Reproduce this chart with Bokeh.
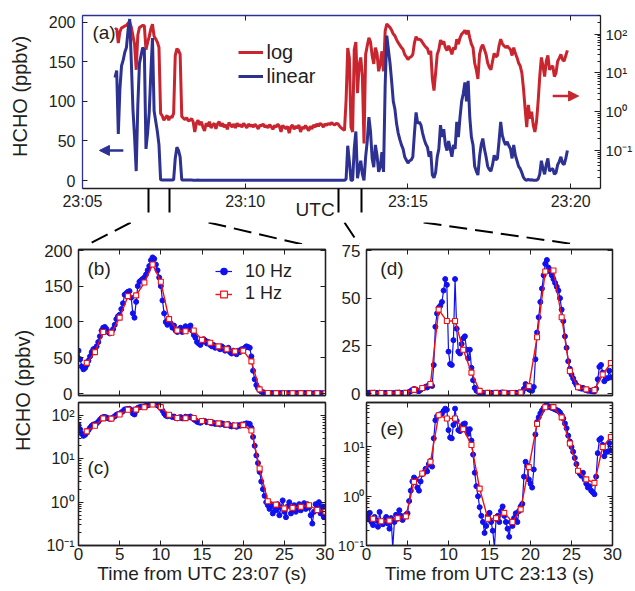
import numpy as np
from bokeh.plotting import figure
from bokeh.layouts import column, row
from bokeh.models import (Range1d, LinearAxis, LogAxis, LogScale, FixedTicker, Label,
                          Arrow, NormalHead, Legend, LegendItem, CustomJSTickFormatter)
from bokeh.embed import file_html
from bokeh.resources import INLINE

# ---------------------------------------------------------------- data
# (a) HCHO (ppbv); time in s after 23:05:00, 3-s steps inside each segment
a_step = 3
a_seg1_t0 = 60
a_seg1 = [130, 139, 59, 116, 145, 152, 162, 168, 190, 204,
          150, 90, 55, 12, 95, 148, 158, 168, 165, 40,
          60, 86, 136, 180, 88, 75, 62, 45, 0.9, 0.78, 0.6]
a_seg2_t0 = 153
a_seg2 = [0.7, 0.8, 0.6, 0.75, 0.7, 0.9, 28, 42, 38, 30,
          0.75, 0.68, 0.62, 0.7, 0.58, 0.6, 0.66, 0.55, 0.3, 0.5,
          0.6, 0.45, 0.55, 0.4, 0.32, 0.5, 0.42, 0.55, 0.38, 0.45,
          0.5, 0.36, 0.48, 0.55, 0.42, 0.5, 0.4, 0.46, 0.35, 0.52,
          0.45, 0.4, 0.48, 0.38, 0.5, 0.42, 0.46, 0.4, 0.5, 0.44,
          0.38, 0.48, 0.42, 0.45, 0.4, 0.47, 0.42, 0.36, 0.45, 0.43,
          0.48, 0.4, 0.44, 0.38, 0.46, 0.41, 0.35, 0.44, 0.4, 0.47,
          0.42, 0.3, 0.44, 0.4, 0.36, 0.42, 0.28, 0.4, 0.45, 0.35,
          0.42, 0.38, 0.45, 0.3, 0.4, 0.36, 0.44, 0.38, 0.32, 0.42,
          0.36, 0.45, 0.4, 0.48, 0.42, 0.5, 0.46, 0.4, 0.48, 0.44,
          0.5, 0.46, 0.52, 0.48, 0.45, 0.5, 0.48, 0.42, 0.38, 0.35]
a_seg3_t0 = 483
a_seg3 = [0.33, 2.0, 44, 24, 0.4, 0.3, 40, 62, 3, 16]
a_seg4_t0 = 513
a_seg4 = [25, 8, 0.15, 30, 50, 80, 62, 28, 17, 45,
          32, 11, 17, 36, 11, 120, 183, 165, 148, 125,
          100, 90, 72, 60, 52, 45, 40, 30, 26, 22,
          25, 26, 30, 60, 86, 72, 74, 70, 60, 52,
          46, 42, 30, 37, 7, 3.5, 10, 30, 40, 70,
          55, 65, 45, 38, 50, 40, 30, 45, 40, 74,
          55, 80, 100, 110, 124, 100, 126, 80, 55, 45,
          18, 12, 7, 30, 45, 53, 40, 30, 18, 14,
          12, 20, 32, 26, 28, 50, 74, 57, 50, 45,
          49, 44, 40, 28, 45, 32, 25, 18, 15, 10,
          4, 1.2, 0.4, 1.5, 0.66, 1.0, 0.45, 0.3, 0.54, 1.8,
          8, 25, 15, 8, 20, 28, 12, 14, 15, 8,
          10, 20, 24, 30, 22, 20, 28, 38]
a_xticks = [0, 300, 600, 900]
a_xtick_labels = ["23:05", "23:10", "23:15", "23:20"]
a_yticks = [0, 50, 100, 150, 200]
a_log_ticks = [0.1, 1, 10, 100]
zoom_marks = [121, 161, 472, 514]   # s after 23:05:00, where the zoom connectors start

# (b)/(c): time from 23:07:00 (s)
t10 = [round(0.2 * k, 1) for k in range(150)]
b_hz10 = [60, 48, 38, 34, 36, 40, 46, 52, 58, 62,
          63, 66, 72, 80, 88, 92, 93, 90, 86, 84,
          86, 90, 96, 104, 108, 110, 118, 126, 138, 140,
          142, 143, 134, 112, 106, 128, 150, 156, 158, 160,
          162, 166, 172, 178, 186, 190, 188, 180, 172, 162,
          150, 130, 112, 100, 96, 102, 98, 92, 95, 88,
          86, 90, 92, 86, 88, 94, 90, 92, 95, 88,
          82, 78, 72, 70, 68, 72, 76, 74, 70, 72,
          68, 66, 68, 64, 66, 64, 62, 66, 64, 60,
          62, 64, 58, 56, 60, 58, 55, 60, 58, 62,
          62, 64, 66, 65, 64, 52, 32, 20, 12, 8,
          5, 3, 2, 1.4, 1.0, 0.85, 0.7, 0.9, 0.55, 0.8,
          0.65, 0.9, 0.5, 0.75, 1.1, 0.6, 0.45, 0.8, 1.0, 0.55,
          0.7, 0.85, 0.6, 0.75, 0.9, 0.65, 0.8, 0.95, 0.7, 0.9,
          0.75, 0.5, 0.32, 0.6, 0.9, 0.7, 1.0, 0.55, 0.8, 0.45]
b_t1 = list(range(1, 31))
b_hz1 = [43, 58, 86, 85, 106, 136, 137, 155, 180, 156,
         104, 88, 87, 88, 75, 71, 66, 62, 59, 60,
         45, 6, 1.05, 0.88, 0.72, 0.74, 0.78, 0.85, 0.66, 0.6]

# (d)/(e): time from 23:13:00 (s)
d_hz10 = [0.42, 0.35, 0.46, 0.3, 0.26, 0.38, 0.32, 0.24, 0.48, 0.3,
          0.27, 0.33, 0.38, 0.28, 0.22, 0.36, 0.09, 0.3, 0.42, 0.35,
          0.52, 0.4, 0.33, 0.38, 0.42, 0.45, 0.8, 1.3, 2.0, 2.4,
          2.2, 1.5, 1.3, 2.0, 2.8, 3.0, 3.6, 3.2, 4.5, 5.2,
          4.0, 15, 35, 42, 45, 46, 48, 54, 60, 57,
          22, 15.5, 15, 28, 60, 34, 22, 21, 26, 29,
          30, 23, 18.5, 23, 13.5, 7, 3, 1.6, 1.0, 0.6,
          0.4, 0.3, 0.18, 0.25, 0.4, 0.46, 0.3, 0.2, 0.09, 0.35,
          0.4, 0.3, 0.5, 0.62, 0.4, 0.3, 0.22, 0.15, 0.3, 0.25,
          0.36, 0.45, 0.3, 0.5, 0.62, 0.7, 2.5, 5.0, 4.2, 2.2,
          1.8, 1.5, 3.5, 18, 32, 40, 48, 55, 62, 68,
          70, 66, 64, 62, 60, 58, 56, 54, 50, 44,
          38, 30, 24, 17, 13, 10, 8, 6, 4.5, 3.2,
          2.9, 2.6, 3.0, 2.2, 1.8, 1.5, 1.6, 1.3, 1.2, 1.1,
          2.5, 7.5, 14, 15, 11, 6.5, 8, 8, 12, 8.5]
d_t1 = [round(0.8 + k, 1) for k in range(30)]
d_hz1 = [0.35, 0.31, 0.32, 0.36, 0.39, 1.96, 2.9, 5.0, 44, 38,
         38, 23, 11, 1.43, 0.35, 0.36, 0.46, 0.30, 0.54, 3.9,
         29.5, 64, 64.5, 40, 11.8, 3.3, 2.2, 1.87, 10, 16]

bottom_xticks = [0, 5, 10, 15, 20, 25, 30]
b_yticks = [0, 50, 100, 150, 200]
c_yticks = [0.1, 1, 10, 100]
d_yticks = [0, 25, 50, 75]
e_yticks = [0.1, 1, 10]

# ---------------------------------------------------------------- style / layout
FONT = "Liberation Sans"
INK = "#231f20"
A_RED = "#c9252f"
A_BLUE = "#2d3192"
C10 = "#1010f0"
C1 = "#f01010"
NBSP = "\u00a0"

W, H = 635, 591
A_H = 222          # top canvas height
BAND_END = 244     # connector band from A_H to BAND_END
STRIP_W = 40
SPLIT = 334
ROW1_BOTTOM = 400
BEND_Y = 213       # where the connectors turn from vertical to diagonal

A_X = (0, 955)
A_Y = (-10, 208.4)
A_YLOG = (0.0104, 302)
FR = {
    "a": dict(f=(82, 602, 15, 189), xr=A_X, yr=A_Y),
    "alog": dict(f=(82, 602, 15, 189), xr=A_X, yr=A_YLOG, log=True),
    "b": dict(f=(78, 325, 249, 395), xr=(0, 30), yr=(-2.5, 201)),
    "c": dict(f=(78, 325, 402, 545), xr=(0, 30), yr=(0.1, 200), log=True),
    "d": dict(f=(363, 612, 249, 395), xr=(0, 30), yr=(-1, 75.5)),
    "e": dict(f=(363, 612, 402, 545), xr=(0, 30), yr=(0.1, 80), log=True),
}
CANVAS = {
    "b": (STRIP_W, SPLIT, BAND_END, ROW1_BOTTOM),
    "c": (STRIP_W, SPLIT, ROW1_BOTTOM, H),
    "d": (SPLIT, W, BAND_END, ROW1_BOTTOM),
    "e": (SPLIT, W, ROW1_BOTTOM, H),
}


def page_to(key, px, py):
    fr = FR[key]
    x0, x1, y0, y1 = fr["f"]
    xr, yr = fr["xr"], fr["yr"]
    x = xr[0] + (px - x0) / (x1 - x0) * (xr[1] - xr[0])
    f = (y1 - py) / (y1 - y0)
    if fr.get("log"):
        l0, l1 = np.log10(yr[0]), np.log10(yr[1])
        y = 10 ** (l0 + f * (l1 - l0))
    else:
        y = yr[0] + f * (yr[1] - yr[0])
    return float(x), float(y)


def empty_fmt():
    return CustomJSTickFormatter(code="return ''")


def pow_fmt():
    return CustomJSTickFormatter(code="""
        const e = Math.round(Math.log10(tick));
        const sup = {"-2": "\\u207b\\u00b2", "-1": "\\u207b\\u00b9", "0": "\\u2070",
                     "1": "\\u00b9", "2": "\\u00b2"};
        return "10" + sup[String(e)];
    """)


def style_axis(ax, size=16, standoff=5, tick_in=5, minor_in=0, color=INK, width=1.3):
    ax.major_tick_in = tick_in
    ax.major_tick_out = 0
    ax.minor_tick_in = minor_in
    ax.minor_tick_out = 0
    ax.major_label_standoff = standoff
    ax.major_label_text_font = FONT
    ax.major_label_text_font_size = f"{size}px"
    ax.major_label_text_color = INK
    ax.axis_line_color = color
    ax.axis_line_width = width
    ax.major_tick_line_color = INK
    ax.minor_tick_line_color = INK if minor_in else None


def hide_labels(ax):
    ax.formatter = empty_fmt()
    ax.major_label_text_font_size = "0px"
    ax.major_label_standoff = 0


def log_minors(e0, e1):
    return [k * 10.0 ** e for e in range(e0, e1 + 1) for k in range(2, 10)]


def text_label(p, key, px, py, text, size, **kw):
    x, y = page_to(key, px, py)
    p.add_layout(Label(x=x, y=y, text=text, text_align="left",
                       text_baseline="middle", text_font=FONT,
                       text_font_size=f"{size}px", text_color=INK, **kw))


def axis_title(ax, text, size, standoff):
    ax.axis_label = text
    ax.axis_label_standoff = standoff
    ax.axis_label_text_font = FONT
    ax.axis_label_text_font_size = f"{size}px"
    ax.axis_label_text_font_style = "normal"
    ax.axis_label_text_color = INK


# ---------------------------------------------------------------- (a)
ta = np.concatenate([a_seg1_t0 + a_step * np.arange(len(a_seg1)),
                     a_seg2_t0 + a_step * np.arange(len(a_seg2)),
                     a_seg3_t0 + a_step * np.arange(len(a_seg3)),
                     a_seg4_t0 + a_step * np.arange(len(a_seg4))])
va = np.array(a_seg1 + a_seg2 + a_seg3 + a_seg4, dtype=float)

fa = FR["a"]["f"]
pa = figure(width=W, height=A_H, x_range=Range1d(*A_X), y_range=Range1d(*A_Y),
            toolbar_location=None, output_backend="svg", title=None,
            min_border_left=fa[0], min_border_right=W - fa[1],
            min_border_top=fa[2], min_border_bottom=A_H - fa[3])
pa.extra_y_ranges = {"log": Range1d(*A_YLOG)}
pa.extra_y_scales = {"log": LogScale()}
pa.grid.visible = False
pa.outline_line_color = None

r_log = pa.line(ta, va, y_range_name="log", line_color=A_RED, line_width=3)
r_lin = pa.line(ta, va, line_color=A_BLUE, line_width=3)

stem = BEND_Y - fa[3]
ax_b = pa.below[0]
# minor ticks at the zoom windows form the vertical stems of the connectors
ax_b.ticker = FixedTicker(ticks=a_xticks, minor_ticks=zoom_marks)
ax_b.major_label_overrides = {int(k): v for k, v in zip(a_xticks, a_xtick_labels)}
style_axis(ax_b, size=16, standoff=4 - stem, tick_in=5)
ax_b.minor_tick_in = 0
ax_b.minor_tick_out = stem
ax_b.minor_tick_line_color = "black"
ax_b.minor_tick_line_width = 2
axis_title(ax_b, "UTC" + NBSP * 10, 19, -14)

ax_l = pa.left[0]
ax_l.ticker = FixedTicker(ticks=a_yticks)
style_axis(ax_l, size=16, standoff=7, tick_in=5, color=A_BLUE)
axis_title(ax_l, NBSP * 2 + "HCHO (ppbv)", 20, 15)

ax_t = LinearAxis(ticker=FixedTicker(ticks=a_xticks))
style_axis(ax_t, tick_in=5, color=A_BLUE)
hide_labels(ax_t)
pa.add_layout(ax_t, "above")

ax_r = LogAxis(y_range_name="log",
               ticker=FixedTicker(ticks=a_log_ticks, minor_ticks=log_minors(-2, 2)),
               formatter=pow_fmt())
style_axis(ax_r, size=15, standoff=5, tick_in=6, minor_in=3)
pa.add_layout(ax_r, "right")

text_label(pa, "a", 92, 32, "(a)", 19)

leg_a = Legend(items=[LegendItem(label="log", renderers=[r_log]),
                      LegendItem(label="linear", renderers=[r_lin])],
               location=(155.5, 100), orientation="vertical", padding=0, margin=0,
               spacing=0, label_height=24, glyph_height=24, glyph_width=25,
               label_standoff=4, label_text_font=FONT, label_text_font_size="20px",
               label_text_color=INK, border_line_color=None, background_fill_alpha=0)
pa.add_layout(leg_a)

x0s, y0s = page_to("a", 123, 150.7)
x1s, _ = page_to("a", 99, 150.7)
pa.add_layout(Arrow(end=NormalHead(size=10, fill_color=A_BLUE, line_color=A_BLUE),
                    x_start=x0s, y_start=y0s, x_end=x1s, y_end=y0s,
                    line_color=A_BLUE, line_width=2.5))
x0s, y0s = page_to("alog", 554, 96)
x1s, _ = page_to("alog", 580, 96)
pa.add_layout(Arrow(end=NormalHead(size=10, fill_color=A_RED, line_color=A_RED),
                    x_start=x0s, y_start=y0s, x_end=x1s, y_end=y0s,
                    y_range_name="log", line_color=A_RED, line_width=2.5))


# ---------------------------------------------------------------- lower panels
def make_panel(key, yticks, ylog, ysize, ystandoff):
    x0, x1, y0, y1 = FR[key]["f"]
    cx0, cx1, cy0, cy1 = CANVAS[key]
    p = figure(width=cx1 - cx0, height=cy1 - cy0,
               x_range=Range1d(*FR[key]["xr"]), y_range=Range1d(*FR[key]["yr"]),
               y_axis_type="log" if ylog else "linear",
               toolbar_location=None, output_backend="svg", title=None,
               min_border_left=x0 - cx0, min_border_right=cx1 - x1,
               min_border_top=y0 - cy0, min_border_bottom=cy1 - y1)
    p.grid.visible = False
    p.outline_line_color = INK
    p.outline_line_width = 1.3
    xtk = FixedTicker(ticks=bottom_xticks)
    if ylog:
        ytk = FixedTicker(ticks=yticks, minor_ticks=log_minors(-1, 2))
    else:
        ytk = FixedTicker(ticks=yticks)
    xb = p.below[0]
    xb.ticker = xtk
    style_axis(xb, size=17, standoff=2)
    yl = p.left[0]
    yl.ticker = ytk
    style_axis(yl, size=ysize, standoff=ystandoff, tick_in=5, minor_in=3 if ylog else 0)
    if ylog:
        yl.formatter = pow_fmt()
    top = LinearAxis(ticker=xtk)
    style_axis(top)
    hide_labels(top)
    p.add_layout(top, "above")
    right = LogAxis(ticker=ytk) if ylog else LinearAxis(ticker=ytk)
    style_axis(right, tick_in=5, minor_in=3 if ylog else 0)
    hide_labels(right)
    p.add_layout(right, "right")
    return p, xb


def draw_series(p, t_fast, v_fast, t_slow, v_slow):
    rl10 = p.line(t_fast, v_fast, line_color=C10, line_width=1.2)
    rs10 = p.scatter(t_fast, v_fast, marker="circle", size=5, fill_color=C10, line_color=C10)
    rl1 = p.line(t_slow, v_slow, line_color=C1, line_width=1.4)
    rs1 = p.scatter(t_slow, v_slow, marker="square", size=5, fill_color="white",
                    line_color=C1, line_width=1.1)
    return (rl10, rs10), (rl1, rs1)


pb, xb_b = make_panel("b", b_yticks, False, 17, 6)
pc, xb_c = make_panel("c", c_yticks, True, 16, 4)
pd, xb_d = make_panel("d", d_yticks, False, 17, 6)
pe, xb_e = make_panel("e", e_yticks, True, 15, 2)

hide_labels(xb_b)
hide_labels(xb_d)

g10, g1 = draw_series(pb, t10, b_hz10, b_t1, b_hz1)
draw_series(pc, t10, b_hz10, b_t1, b_hz1)
draw_series(pd, t10, d_hz10, d_t1, d_hz1)
draw_series(pe, t10, d_hz10, d_t1, d_hz1)

axis_title(xb_c, "Time from UTC 23:07 (s)", 19, 0)
axis_title(xb_e, "Time from UTC 23:13 (s)", 19, 0)

text_label(pb, "b", 87, 268, "(b)", 19)
text_label(pc, "c", 87, 467, "(c)", 19)
text_label(pd, "d", 377, 268, "(d)", 19)
text_label(pe, "e", 377, 428, "(e)", 19)

fb_bottom = FR["b"]["f"][3]
for lab, rends, cy in (("10 Hz", g10, 271), ("1 Hz", g1, 293.5)):
    lg = Legend(items=[LegendItem(label=lab, renderers=list(rends))],
                location=(215 - FR["b"]["f"][0], fb_bottom - (cy + 12)),
                padding=0, margin=0, spacing=0,
                label_height=24, glyph_height=24, glyph_width=17, label_standoff=13,
                label_text_font=FONT, label_text_font_size="18px", label_text_color=INK,
                border_line_color=None, background_fill_alpha=0)
    pb.add_layout(lg)

# ---------------------------------------------------------------- connector band
# the band's frame is aligned with the frame of (a) by the column layout,
# so it shares the time axis of (a)
band = figure(width=W, height=BAND_END - A_H, x_range=pa.x_range,
              y_range=Range1d(BAND_END, A_H), toolbar_location=None,
              output_backend="svg", title=None, min_border=0,
              min_border_left=fa[0], min_border_right=W - fa[1],
              x_axis_location=None, y_axis_location=None, outline_line_color=None)
band.grid.visible = False
corners = [(FR["b"]["f"][0], FR["b"]["f"][2]), (FR["b"]["f"][1], FR["b"]["f"][2]),
           (FR["d"]["f"][0], FR["d"]["f"][2]), (FR["d"]["f"][1], FR["d"]["f"][2])]
sx0, sy0, sx1, sy1 = [], [], [], []
for tm, (cx, cy) in zip(zoom_marks, corners):
    tc, _ = page_to("a", cx, cy)
    f0 = (A_H - BEND_Y) / (cy - BEND_Y)
    f1 = (BAND_END - BEND_Y) / (cy - BEND_Y)
    sx0.append(tm + f0 * (tc - tm))
    sy0.append(A_H)
    sx1.append(tm + f1 * (tc - tm))
    sy1.append(BAND_END)
band.segment(sx0, sy0, sx1, sy1, line_color="black", line_width=2, line_dash="18 8")

# ---------------------------------------------------------------- strip with shared y label
fb = FR["b"]["f"]
fc = FR["c"]["f"]
ps = figure(width=STRIP_W, height=H - BAND_END, x_range=Range1d(0, 1), y_range=Range1d(0, 1),
            toolbar_location=None, output_backend="svg", title=None,
            min_border_left=0, min_border_right=0,
            min_border_top=fb[2] - BAND_END, min_border_bottom=H - fc[3],
            x_axis_location=None, y_axis_location=None, outline_line_color=None)
ps.grid.visible = False
ps.add_layout(Label(x=22 / STRIP_W, y=(fc[3] - 390) / (fc[3] - fb[2]), text="HCHO (ppbv)",
                    angle=np.pi / 2, text_align="center", text_baseline="middle",
                    text_font=FONT, text_font_size="20px", text_color=INK))

layout = column(pa, band, row(ps, column(pb, pc), column(pd, pe)))
open("out.html", "w").write(file_html(layout, INLINE))
